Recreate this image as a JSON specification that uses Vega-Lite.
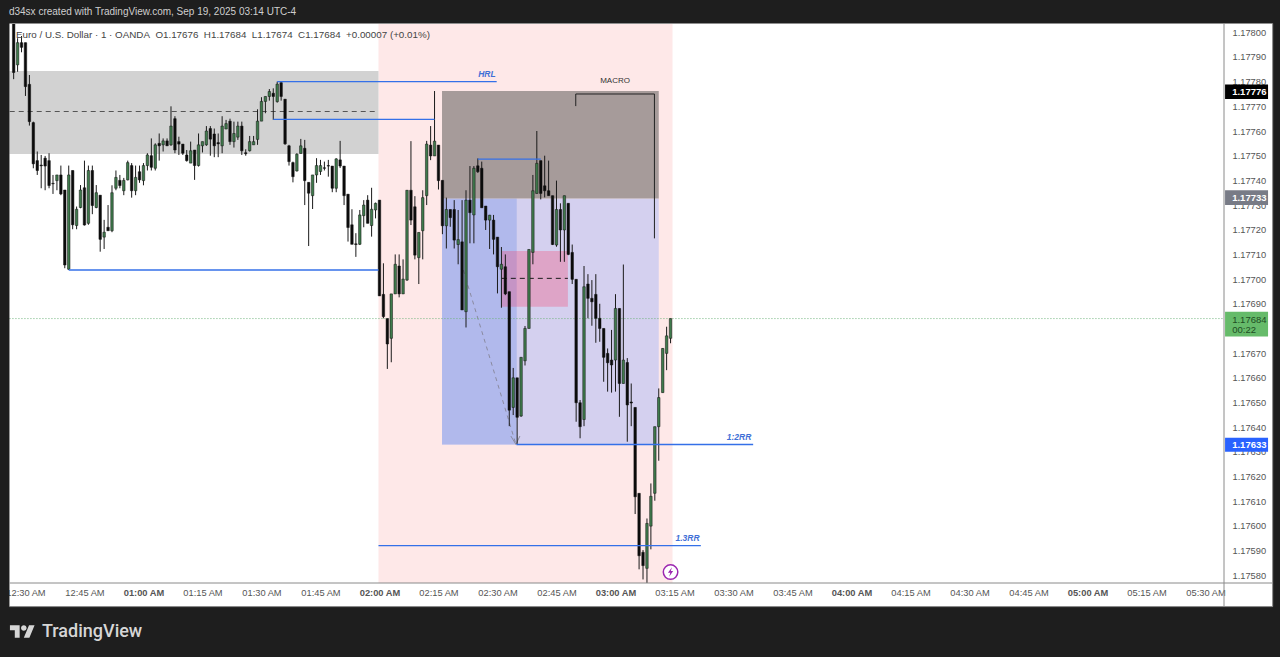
{"$schema":"https://vega.github.io/schema/vega-lite/v6.json","width":1214,"height":559,"padding":{"left":10,"top":24,"right":56,"bottom":74},"autosize":"none","background":"#ffffff","view":{"stroke":null},"config":{"axis":{"labelFont":"Liberation Sans","labelFontSize":9.3,"labelColor":"#555555","grid":false,"ticks":false,"domain":false},"text":{"font":"Liberation Sans"}},
"encoding":{"x":{"field":"t","type":"quantitative","title":null,"scale":{"domain":[26.07,334.7],"zero":false,"nice":false,"padding":0},"axis":{"values":[30,45,60,75,90,105,120,135,150,165,180,195,210,225,240,255,270,285,300,315,330],"labelExpr":"pad(floor(datum.value/60)==0?12:floor(datum.value/60),2,'0','left')+':'+pad(datum.value%60,2,'0','left')+' AM'","labelOverlap":false,"labelFlush":false,"labelPadding":5,"labelFontWeight":{"condition":{"test":"datum.value%60==0","value":"bold"},"value":"normal"}}},"y":{"field":"p","type":"quantitative","title":null,"scale":{"domain":[1.1757686,1.1780336],"zero":false,"nice":false},"axis":{"orient":"right","values":[1.1758,1.1759,1.176,1.1761,1.1762,1.1763,1.1764,1.1765,1.1766,1.1767,1.1768,1.1769,1.177,1.1771,1.1772,1.1773,1.1774,1.1775,1.1776,1.1777,1.1778,1.1779,1.178],"format":".5f","labelPadding":8,"labelOverlap":false,"labelFlush":false}}},
"datasets":{
"candles":[
{"t":27,"o":1.17806,"h":1.17806,"l":1.17781,"c":1.177837},
{"t":28,"o":1.177868,"h":1.177976,"l":1.17784,"c":1.177958},
{"t":29,"o":1.177958,"h":1.177985,"l":1.177919,"c":1.177939},
{"t":30,"o":1.177958,"h":1.177958,"l":1.177742,"c":1.17778},
{"t":31,"o":1.177789,"h":1.177827,"l":1.177622,"c":1.177638},
{"t":32,"o":1.177634,"h":1.177638,"l":1.177449,"c":1.177467},
{"t":33,"o":1.17748,"h":1.177517,"l":1.177422,"c":1.17744},
{"t":34,"o":1.177462,"h":1.177503,"l":1.177368,"c":1.177459},
{"t":35,"o":1.17749,"h":1.177499,"l":1.17736,"c":1.177458},
{"t":36,"o":1.17748,"h":1.17751,"l":1.177368,"c":1.177379},
{"t":37,"o":1.177388,"h":1.177422,"l":1.177345,"c":1.177386},
{"t":38,"o":1.177399,"h":1.177422,"l":1.17736,"c":1.177422},
{"t":39,"o":1.177422,"h":1.17746,"l":1.17734,"c":1.177345},
{"t":40,"o":1.177361,"h":1.177361,"l":1.177044,"c":1.177057},
{"t":41,"o":1.17704,"h":1.17746,"l":1.177037,"c":1.177422},
{"t":42,"o":1.17744,"h":1.17744,"l":1.177202,"c":1.17722},
{"t":43,"o":1.177217,"h":1.177294,"l":1.177202,"c":1.177283},
{"t":44,"o":1.17729,"h":1.177381,"l":1.177287,"c":1.177361},
{"t":45,"o":1.17737,"h":1.17748,"l":1.177217,"c":1.177219},
{"t":46,"o":1.177226,"h":1.17746,"l":1.17722,"c":1.17744},
{"t":47,"o":1.17744,"h":1.17746,"l":1.177263,"c":1.177298},
{"t":48,"o":1.17729,"h":1.177381,"l":1.177287,"c":1.17735},
{"t":49,"o":1.17734,"h":1.17734,"l":1.177111,"c":1.177161},
{"t":50,"o":1.17717,"h":1.17724,"l":1.177122,"c":1.17719},
{"t":51,"o":1.17721,"h":1.1773,"l":1.177196,"c":1.177196},
{"t":52,"o":1.177196,"h":1.17738,"l":1.17719,"c":1.17735},
{"t":53,"o":1.177368,"h":1.17744,"l":1.17736,"c":1.177412},
{"t":54,"o":1.1774,"h":1.177422,"l":1.177368,"c":1.177379},
{"t":55,"o":1.177358,"h":1.17741,"l":1.17734,"c":1.1774},
{"t":56,"o":1.177402,"h":1.17748,"l":1.1774,"c":1.177472},
{"t":57,"o":1.17746,"h":1.17747,"l":1.17733,"c":1.177358},
{"t":58,"o":1.177358,"h":1.17746,"l":1.17734,"c":1.177412},
{"t":59,"o":1.177435,"h":1.17746,"l":1.17739,"c":1.177402},
{"t":60,"o":1.177399,"h":1.17747,"l":1.17738,"c":1.17746},
{"t":61,"o":1.17746,"h":1.17751,"l":1.17744,"c":1.177503},
{"t":62,"o":1.1775,"h":1.17757,"l":1.17744,"c":1.177453},
{"t":63,"o":1.177449,"h":1.17755,"l":1.17744,"c":1.177544},
{"t":64,"o":1.17755,"h":1.17759,"l":1.17748,"c":1.17754},
{"t":65,"o":1.177544,"h":1.17757,"l":1.177517,"c":1.17756},
{"t":66,"o":1.17756,"h":1.17757,"l":1.17754,"c":1.17754},
{"t":67,"o":1.177544,"h":1.1777,"l":1.17754,"c":1.17762},
{"t":68,"o":1.17765,"h":1.17766,"l":1.17751,"c":1.177523},
{"t":69,"o":1.177557,"h":1.177577,"l":1.177503,"c":1.177547},
{"t":70,"o":1.177547,"h":1.177547,"l":1.177503,"c":1.17751},
{"t":71,"o":1.177503,"h":1.177523,"l":1.177476,"c":1.17748},
{"t":72,"o":1.17747,"h":1.177557,"l":1.17747,"c":1.17752},
{"t":73,"o":1.177523,"h":1.177523,"l":1.177402,"c":1.17746},
{"t":74,"o":1.17746,"h":1.17759,"l":1.177456,"c":1.177544},
{"t":75,"o":1.17754,"h":1.177557,"l":1.177513,"c":1.177557},
{"t":76,"o":1.177544,"h":1.17762,"l":1.17754,"c":1.1776},
{"t":77,"o":1.17761,"h":1.17762,"l":1.1775,"c":1.177567},
{"t":78,"o":1.177588,"h":1.17761,"l":1.177494,"c":1.17754},
{"t":79,"o":1.177553,"h":1.17759,"l":1.177494,"c":1.177548},
{"t":80,"o":1.17754,"h":1.17766,"l":1.17751,"c":1.17762},
{"t":81,"o":1.177608,"h":1.177645,"l":1.177608,"c":1.17763},
{"t":82,"o":1.17764,"h":1.17765,"l":1.177544,"c":1.177557},
{"t":83,"o":1.177557,"h":1.177638,"l":1.177533,"c":1.17759},
{"t":84,"o":1.177575,"h":1.177638,"l":1.177564,"c":1.17762},
{"t":85,"o":1.17762,"h":1.177638,"l":1.177503,"c":1.17752},
{"t":86,"o":1.177512,"h":1.177526,"l":1.1775,"c":1.177508},
{"t":87,"o":1.17752,"h":1.17758,"l":1.177517,"c":1.177557},
{"t":88,"o":1.177544,"h":1.17758,"l":1.177544,"c":1.177557},
{"t":89,"o":1.177566,"h":1.177688,"l":1.177544,"c":1.17764},
{"t":90,"o":1.17764,"h":1.177737,"l":1.17764,"c":1.17772},
{"t":91,"o":1.17772,"h":1.17774,"l":1.177672,"c":1.17774},
{"t":92,"o":1.17774,"h":1.17777,"l":1.177723,"c":1.17776},
{"t":93,"o":1.177753,"h":1.177773,"l":1.177645,"c":1.17774},
{"t":94,"o":1.177719,"h":1.1778,"l":1.177715,"c":1.17779},
{"t":95,"o":1.177796,"h":1.1778,"l":1.177723,"c":1.17774},
{"t":96,"o":1.177729,"h":1.177729,"l":1.177544,"c":1.177548},
{"t":97,"o":1.17754,"h":1.177544,"l":1.17746,"c":1.177476},
{"t":98,"o":1.177472,"h":1.177476,"l":1.177392,"c":1.177415},
{"t":99,"o":1.177438,"h":1.17751,"l":1.177436,"c":1.177506},
{"t":100,"o":1.177509,"h":1.177568,"l":1.177509,"c":1.17754},
{"t":101,"o":1.17753,"h":1.177564,"l":1.1773,"c":1.177399},
{"t":102,"o":1.177392,"h":1.177392,"l":1.177134,"c":1.177348},
{"t":103,"o":1.177338,"h":1.177422,"l":1.177284,"c":1.177422},
{"t":104,"o":1.177422,"h":1.17749,"l":1.17739,"c":1.17746},
{"t":105,"o":1.177436,"h":1.177483,"l":1.177422,"c":1.17746},
{"t":106,"o":1.177451,"h":1.177476,"l":1.17744,"c":1.177449},
{"t":107,"o":1.17746,"h":1.177483,"l":1.177415,"c":1.177458},
{"t":108,"o":1.177458,"h":1.177458,"l":1.177352,"c":1.177368},
{"t":109,"o":1.177368,"h":1.17749,"l":1.177352,"c":1.177487},
{"t":110,"o":1.177483,"h":1.17756,"l":1.17745,"c":1.177458},
{"t":111,"o":1.177458,"h":1.177458,"l":1.1773,"c":1.177338},
{"t":112,"o":1.177344,"h":1.177344,"l":1.177152,"c":1.177209},
{"t":113,"o":1.17722,"h":1.177283,"l":1.177141,"c":1.177141},
{"t":114,"o":1.177143,"h":1.177186,"l":1.17709,"c":1.17714},
{"t":115,"o":1.177141,"h":1.17728,"l":1.177138,"c":1.17726},
{"t":116,"o":1.177257,"h":1.17732,"l":1.17721,"c":1.1773},
{"t":117,"o":1.17732,"h":1.17734,"l":1.177226,"c":1.177226},
{"t":118,"o":1.177217,"h":1.17737,"l":1.177172,"c":1.177283},
{"t":119,"o":1.17728,"h":1.17731,"l":1.177246,"c":1.177307},
{"t":120,"o":1.17732,"h":1.17732,"l":1.176932,"c":1.176932},
{"t":121,"o":1.176938,"h":1.177064,"l":1.176841,"c":1.176848},
{"t":122,"o":1.17684,"h":1.17684,"l":1.176636,"c":1.176737},
{"t":123,"o":1.17676,"h":1.17694,"l":1.176663,"c":1.17694},
{"t":124,"o":1.17694,"h":1.1771,"l":1.17694,"c":1.17706},
{"t":125,"o":1.177053,"h":1.1771,"l":1.176926,"c":1.17694},
{"t":126,"o":1.17694,"h":1.17708,"l":1.17694,"c":1.177},
{"t":127,"o":1.176996,"h":1.17736,"l":1.176993,"c":1.17736},
{"t":128,"o":1.17736,"h":1.177559,"l":1.177219,"c":1.177239},
{"t":129,"o":1.177293,"h":1.177336,"l":1.17708,"c":1.177097},
{"t":130,"o":1.177087,"h":1.177189,"l":1.17698,"c":1.177189},
{"t":131,"o":1.177196,"h":1.17736,"l":1.17708,"c":1.17733},
{"t":132,"o":1.177338,"h":1.17756,"l":1.1773,"c":1.177547},
{"t":133,"o":1.177543,"h":1.17762,"l":1.177482,"c":1.177499},
{"t":134,"o":1.177499,"h":1.177762,"l":1.177499,"c":1.177559},
{"t":135,"o":1.177543,"h":1.177543,"l":1.177363,"c":1.177399},
{"t":136,"o":1.1774,"h":1.1774,"l":1.177182,"c":1.177216},
{"t":137,"o":1.177216,"h":1.17733,"l":1.177124,"c":1.177282},
{"t":138,"o":1.177282,"h":1.177282,"l":1.177212,"c":1.177249},
{"t":139,"o":1.177282,"h":1.17732,"l":1.177124,"c":1.177158},
{"t":140,"o":1.17714,"h":1.17728,"l":1.17706,"c":1.17716},
{"t":141,"o":1.177151,"h":1.17732,"l":1.176875,"c":1.176875},
{"t":142,"o":1.176868,"h":1.17736,"l":1.176804,"c":1.17732},
{"t":143,"o":1.17732,"h":1.177458,"l":1.177145,"c":1.177269},
{"t":144,"o":1.17726,"h":1.177458,"l":1.177145,"c":1.177449},
{"t":145,"o":1.177459,"h":1.177489,"l":1.17743,"c":1.177435},
{"t":146,"o":1.177449,"h":1.177476,"l":1.177289,"c":1.177289},
{"t":147,"o":1.177296,"h":1.177296,"l":1.177199,"c":1.177239},
{"t":148,"o":1.177239,"h":1.17726,"l":1.177122,"c":1.177259},
{"t":149,"o":1.177239,"h":1.17726,"l":1.1771,"c":1.177161},
{"t":150,"o":1.17717,"h":1.17717,"l":1.176942,"c":1.17705},
{"t":151,"o":1.17704,"h":1.17713,"l":1.176884,"c":1.17706},
{"t":152,"o":1.17705,"h":1.1771,"l":1.176935,"c":1.17694},
{"t":153,"o":1.176949,"h":1.176949,"l":1.176404,"c":1.176469},
{"t":154,"o":1.17648,"h":1.17664,"l":1.176449,"c":1.1766},
{"t":155,"o":1.1766,"h":1.1766,"l":1.176332,"c":1.17644},
{"t":156,"o":1.176445,"h":1.176683,"l":1.176442,"c":1.176683},
{"t":157,"o":1.176669,"h":1.17681,"l":1.17665,"c":1.1768},
{"t":158,"o":1.1768,"h":1.17712,"l":1.1768,"c":1.17712},
{"t":159,"o":1.177108,"h":1.177422,"l":1.17706,"c":1.177358},
{"t":160,"o":1.177347,"h":1.1776,"l":1.177347,"c":1.177469},
{"t":161,"o":1.17748,"h":1.17748,"l":1.177323,"c":1.177347},
{"t":162,"o":1.177378,"h":1.1775,"l":1.177331,"c":1.177358},
{"t":163,"o":1.177358,"h":1.17748,"l":1.177338,"c":1.177338},
{"t":164,"o":1.177338,"h":1.177338,"l":1.177138,"c":1.17714},
{"t":165,"o":1.177138,"h":1.177399,"l":1.177131,"c":1.177282},
{"t":166,"o":1.177282,"h":1.177307,"l":1.17707,"c":1.177199},
{"t":167,"o":1.177199,"h":1.177338,"l":1.17707,"c":1.177338},
{"t":168,"o":1.177307,"h":1.177307,"l":1.177097,"c":1.1771},
{"t":169,"o":1.177108,"h":1.17714,"l":1.17698,"c":1.176999},
{"t":170,"o":1.176999,"h":1.176999,"l":1.176422,"c":1.176499},
{"t":171,"o":1.176499,"h":1.17651,"l":1.176355,"c":1.176402},
{"t":172,"o":1.176431,"h":1.177053,"l":1.176404,"c":1.176969},
{"t":173,"o":1.17698,"h":1.17702,"l":1.176841,"c":1.176922},
{"t":174,"o":1.176922,"h":1.176996,"l":1.176811,"c":1.176908},
{"t":175,"o":1.176938,"h":1.17702,"l":1.176742,"c":1.176841},
{"t":176,"o":1.176841,"h":1.1769,"l":1.176746,"c":1.1768},
{"t":177,"o":1.1768,"h":1.1768,"l":1.176584,"c":1.176683},
{"t":178,"o":1.176699,"h":1.176719,"l":1.176544,"c":1.176661},
{"t":179,"o":1.176672,"h":1.176794,"l":1.17654,"c":1.176652},
{"t":180,"o":1.176672,"h":1.176939,"l":1.176544,"c":1.176881},
{"t":181,"o":1.176881,"h":1.176881,"l":1.176442,"c":1.176577},
{"t":182,"o":1.176577,"h":1.177059,"l":1.176577,"c":1.176672},
{"t":183,"o":1.176662,"h":1.17668,"l":1.176341,"c":1.17649},
{"t":184,"o":1.176502,"h":1.176577,"l":1.176404,"c":1.176498},
{"t":185,"o":1.17648,"h":1.17648,"l":1.176048,"c":1.176118},
{"t":186,"o":1.176132,"h":1.176132,"l":1.175824,"c":1.175879},
{"t":187,"o":1.175893,"h":1.175902,"l":1.175783,"c":1.175839},
{"t":188,"o":1.175828,"h":1.17603,"l":1.175767,"c":1.17601},
{"t":189,"o":1.175999,"h":1.176172,"l":1.175905,"c":1.17612},
{"t":190,"o":1.176132,"h":1.176402,"l":1.176102,"c":1.176402},
{"t":191,"o":1.176402,"h":1.176557,"l":1.176264,"c":1.17652},
{"t":192,"o":1.17654,"h":1.17672,"l":1.17654,"c":1.176719},
{"t":193,"o":1.176699,"h":1.176807,"l":1.176631,"c":1.17677},
{"t":194,"o":1.17676,"h":1.17684,"l":1.17674,"c":1.17684}
],
"session":[{"t":119.75,"t2":194.5,"p":1.1780336,"p2":1.1757686}],
"grey":[{"t":25.93,"t2":119.75,"p":1.177843,"p2":1.177507}],
"lav":[{"t":135.9,"t2":191,"p":1.177327,"p2":1.17633}],
"blue":[{"t":135.9,"t2":154.9,"p":1.177327,"p2":1.17633}],
"brown":[{"t":135.9,"t2":191,"p":1.177762,"p2":1.177327}],
"rose":[{"t":151.1,"t2":167.9,"p":1.177114,"p2":1.176888}],
"bluelines":[
{"t":94,"t2":149.8,"p":1.1778},
{"t":93,"t2":134,"p":1.177647},
{"t":41,"t2":119.75,"p":1.177037},
{"t":145,"t2":161,"p":1.177486},
{"t":154.83,"t2":215,"p":1.17633},
{"t":119.75,"t2":201.7,"p":1.17592}],
"bracket":[
{"t":169.9,"t2":169.9,"p":1.177701,"p2":1.17775},
{"t":169.9,"t2":189.9,"p":1.17775,"p2":1.17775},
{"t":189.9,"t2":189.9,"p":1.17775,"p2":1.177165}],
"midgrey":[{"t":26,"t2":119.75,"p":1.177679}],
"midrose":[{"t":151.1,"t2":167.9,"p":1.177003}],
"diag":[{"t":141.3,"t2":154.7,"p":1.177037,"p2":1.17633}],
"arrow":[
{"t":153.4,"t2":154.7,"p":1.176364,"p2":1.17633},
{"t":155.7,"t2":154.7,"p":1.176364,"p2":1.17633}],
"lastprice":[{"t":25.93,"t2":334.7,"p":1.17684}],
"rrlabels":[
{"t":147.3,"p":1.177831,"label":"HRL"},
{"t":211.4,"p":1.17636,"label":"1:2RR"},
{"t":198.3,"p":1.17595,"label":"1.3RR"}],
"macro":[{"t":179.9,"p":1.177804,"label":"MACRO"}],
"legendline":[{"t":27.6,"p":1.177989,"label":"Euro / U.S. Dollar · 1 · OANDA\u00a0\u00a0O1.17676\u00a0\u00a0H1.17684\u00a0\u00a0L1.17674\u00a0\u00a0C1.17684\u00a0\u00a0+0.00007 (+0.01%)"}],
"frame":[
{"t":22.25,"t2":25.93,"p":1.17852,"p2":1.1753},
{"t":347.07,"t2":351.5,"p":1.17852,"p2":1.1753},
{"t":22.25,"t2":351.5,"p":1.17815,"p2":1.178036},
{"t":22.25,"t2":351.5,"p":1.175673,"p2":1.1753}],
"separators":[
{"t":334.7,"t2":334.7,"p":1.178036,"p2":1.175673},
{"t":25.93,"t2":347.07,"p":1.1757686,"p2":1.1757686},
{"t":25.93,"t2":347.07,"p":1.175673,"p2":1.175673},
{"t":347.07,"t2":347.07,"p":1.178036,"p2":1.175673}],
"tagblack":[{"t":334.97,"t2":345.9,"p":1.1777885,"p2":1.17773}],
"taggrey":[{"t":334.97,"t2":345.9,"p":1.17736,"p2":1.1773}],
"tagblue":[{"t":334.97,"t2":345.9,"p":1.176357,"p2":1.1763}],
"taggreen":[{"t":334.97,"t2":345.9,"p":1.176868,"p2":1.176767}],
"tagwhitetext":[
{"t":336.78,"p":1.17776,"label":"1.17776"},
{"t":336.78,"p":1.17733,"label":"1.17733"},
{"t":336.78,"p":1.176328,"label":"1.17633"}],
"taggreentext":[
{"t":336.78,"p":1.176836,"label":"1.17684"},
{"t":336.78,"p":1.176792,"label":"00:22"}],
"signal":[{"t":194,"p":1.175813}],
"header":[{"t":25.8,"p":1.178082,"label":"d34sx created with TradingView.com, Sep 19, 2025 03:14 UTC-4"}],
"logo":[{"t":29.23,"p":1.175572}],
"logotext":[{"t":34.2,"p":1.175572,"label":"TradingView"}]
},
"layer":[
{"data":{"name":"session"},"mark":{"type":"rect","fill":"#fee8e8"},"encoding":{"x2":{"field":"t2"},"y2":{"field":"p2"}}},
{"data":{"name":"grey"},"mark":{"type":"rect","fill":"#d2d2d2"},"encoding":{"x2":{"field":"t2"},"y2":{"field":"p2"}}},
{"data":{"name":"lav"},"mark":{"type":"rect","fill":"#d4d0ef"},"encoding":{"x2":{"field":"t2"},"y2":{"field":"p2"}}},
{"data":{"name":"blue"},"mark":{"type":"rect","fill":"#b1b9ec"},"encoding":{"x2":{"field":"t2"},"y2":{"field":"p2"}}},
{"data":{"name":"brown"},"mark":{"type":"rect","fill":"#a69b9a"},"encoding":{"x2":{"field":"t2"},"y2":{"field":"p2"}}},
{"data":{"name":"rose"},"mark":{"type":"rect","fill":"#f5406a","fillOpacity":0.3},"encoding":{"x2":{"field":"t2"},"y2":{"field":"p2"}}},
{"data":{"name":"midgrey"},"mark":{"type":"rule","stroke":"#555555","strokeWidth":1,"strokeDash":[5,4]},"encoding":{"x2":{"field":"t2"}}},
{"data":{"name":"midrose"},"mark":{"type":"rule","stroke":"#1a1a1a","strokeWidth":1,"strokeDash":[5,4]},"encoding":{"x2":{"field":"t2"}}},
{"data":{"name":"diag"},"mark":{"type":"rule","stroke":"#8a8aa0","strokeWidth":1,"strokeDash":[4,4]},"encoding":{"x2":{"field":"t2"},"y2":{"field":"p2"}}},
{"data":{"name":"arrow"},"mark":{"type":"rule","stroke":"#8a8aa0","strokeWidth":1},"encoding":{"x2":{"field":"t2"},"y2":{"field":"p2"}}},
{"data":{"name":"lastprice"},"mark":{"type":"rule","stroke":"#6fb37c","strokeWidth":1,"strokeDash":[1,2]},"encoding":{"x2":{"field":"t2"}}},
{"data":{"name":"candles"},"mark":{"type":"rule","stroke":"#1a1a1a","strokeWidth":1,"clip":true},"encoding":{"y":{"field":"h","type":"quantitative","title":null,"scale":{"domain":[1.1757686,1.1780336],"zero":false,"nice":false},"axis":{"orient":"right","values":[1.1758,1.1759,1.176,1.1761,1.1762,1.1763,1.1764,1.1765,1.1766,1.1767,1.1768,1.1769,1.177,1.1771,1.1772,1.1773,1.1774,1.1775,1.1776,1.1777,1.1778,1.1779,1.178],"format":".5f","labelPadding":8,"labelOverlap":false,"labelFlush":false}},"y2":{"field":"l"}}},
{"data":{"name":"candles"},"mark":{"type":"bar","orient":"vertical","width":2.5,"stroke":"#111111","strokeWidth":0.5,"clip":true},"encoding":{"y":{"field":"o","type":"quantitative","title":null,"scale":{"domain":[1.1757686,1.1780336],"zero":false,"nice":false},"axis":{"orient":"right","values":[1.1758,1.1759,1.176,1.1761,1.1762,1.1763,1.1764,1.1765,1.1766,1.1767,1.1768,1.1769,1.177,1.1771,1.1772,1.1773,1.1774,1.1775,1.1776,1.1777,1.1778,1.1779,1.178],"format":".5f","labelPadding":8,"labelOverlap":false,"labelFlush":false}},"y2":{"field":"c"},"fill":{"condition":{"test":"datum.c>=datum.o","value":"#3f7a4c"},"value":"#0b0b0b"}}},
{"data":{"name":"bluelines"},"mark":{"type":"rule","stroke":"#3470e8","strokeWidth":1.4},"encoding":{"x2":{"field":"t2"}}},
{"data":{"name":"bracket"},"mark":{"type":"rule","stroke":"#222222","strokeWidth":1},"encoding":{"x2":{"field":"t2"},"y2":{"field":"p2"}}},
{"data":{"name":"rrlabels"},"mark":{"type":"text","fontSize":8.5,"fontWeight":"bold","fontStyle":"italic","fill":"#3f6fd6","align":"center","baseline":"middle"},"encoding":{"text":{"field":"label"}}},
{"data":{"name":"macro"},"mark":{"type":"text","fontSize":8,"fill":"#333333","align":"center","baseline":"middle"},"encoding":{"text":{"field":"label"}}},
{"data":{"name":"legendline"},"mark":{"type":"text","fontSize":9.8,"fill":"#444444","align":"left","baseline":"middle"},"encoding":{"text":{"field":"label"}}},
{"data":{"name":"signal"},"mark":{"type":"point","shape":"circle","size":210,"fill":"#ffffff","fillOpacity":1,"stroke":"#9c27b0","strokeWidth":1.5},"encoding":{}},
{"data":{"name":"signal"},"mark":{"type":"point","shape":"M.3 -1 L-.55 .15 H-.05 L-.3 1 L.55 -.2 H.05 Z","size":90,"filled":true,"fill":"#9c27b0","opacity":1},"encoding":{}},
{"data":{"name":"tagblack"},"mark":{"type":"rect","fill":"#000000"},"encoding":{"x2":{"field":"t2"},"y2":{"field":"p2"}}},
{"data":{"name":"taggrey"},"mark":{"type":"rect","fill":"#787b86"},"encoding":{"x2":{"field":"t2"},"y2":{"field":"p2"}}},
{"data":{"name":"tagblue"},"mark":{"type":"rect","fill":"#2962ff"},"encoding":{"x2":{"field":"t2"},"y2":{"field":"p2"}}},
{"data":{"name":"taggreen"},"mark":{"type":"rect","fill":"#66bb6a"},"encoding":{"x2":{"field":"t2"},"y2":{"field":"p2"}}},
{"data":{"name":"tagwhitetext"},"mark":{"type":"text","fontSize":9.5,"fontWeight":"bold","fill":"#ffffff","align":"left","baseline":"middle"},"encoding":{"text":{"field":"label"}}},
{"data":{"name":"taggreentext"},"mark":{"type":"text","fontSize":9.5,"fill":"#1e4d24","align":"left","baseline":"middle"},"encoding":{"text":{"field":"label"}}},
{"data":{"name":"frame"},"mark":{"type":"rect","fill":"#1e1e1e"},"encoding":{"x2":{"field":"t2"},"y2":{"field":"p2"}}},
{"data":{"name":"separators"},"mark":{"type":"rule","stroke":"#8a8a8a","strokeWidth":1},"encoding":{"x2":{"field":"t2"},"y2":{"field":"p2"}}},
{"data":{"name":"header"},"mark":{"type":"text","fontSize":10,"fill":"#cfcfcf","align":"left","baseline":"middle"},"encoding":{"text":{"field":"label"}}},
{"data":{"name":"logo"},"mark":{"type":"point","shape":"M-.222 .5 H-.611 V-.111 H-1 V-.5 H-.222 Z M.556 .5 H.111 L.528 -.5 H.972 Z M-.111 -.278 a.222 .222 0 1 0 .444 0 a.222 .222 0 1 0 -.444 0 Z","size":625,"filled":true,"fill":"#d6d6d6","opacity":1},"encoding":{}},
{"data":{"name":"logotext"},"mark":{"type":"text","fontSize":18,"font":"Roboto","fontWeight":500,"fill":"#d6d6d6","align":"left","baseline":"middle"},"encoding":{"text":{"field":"label"}}}
]}
